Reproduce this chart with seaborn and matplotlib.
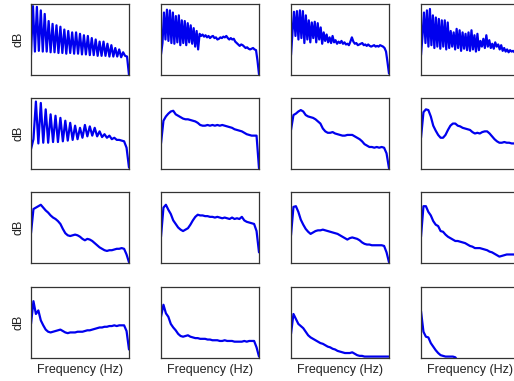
import matplotlib
matplotlib.use("Agg")
import matplotlib.pyplot as plt
import seaborn as sns
import numpy as np
import pandas as pd

# spectra: level in % of each panel's dB range,
# sampled evenly from lowest to highest frequency
r1c1 = [28, 97, 33, 96, 34, 91, 33, 86, 33, 76, 32, 72, 32, 70, 31, 68, 31, 64,
        30, 62, 31, 60, 30, 60, 30, 58, 29, 56, 29, 55, 28, 52, 28, 50, 27, 47,
        27, 47, 27, 44, 26, 42, 26, 38, 26, 36, 25, 32, 27, 26, 0]
r1c2 = [29, 45, 88, 50, 92, 48, 91, 45, 88, 44, 83, 46, 84, 42, 77, 45, 76, 42,
        73, 46, 70, 44, 66, 40, 62, 36, 58, 55, 57, 54, 56, 53, 55, 52, 54, 55,
        52, 53, 50, 51, 53, 52, 54, 53, 55, 52, 50, 52, 50, 51, 47, 45, 43, 41,
        43, 42, 40, 38, 39, 37, 36, 37, 38, 36, 35, 20, 1]
r1c3 = [28, 60, 89, 55, 90, 50, 91, 52, 90, 45, 84, 50, 77, 46, 74, 52, 75, 46,
        73, 50, 67, 44, 60, 48, 57, 46, 53, 45, 55, 46, 49, 44, 47, 45, 48, 44,
        46, 43, 44, 42, 47, 53, 47, 44, 45, 42, 43, 44, 45, 42, 43, 41, 43, 41,
        40, 41, 42, 40, 41, 40, 42, 41, 40, 38, 33, 18, 2]
r1c4 = [28, 55, 88, 45, 91, 40, 93, 42, 84, 38, 81, 40, 79, 37, 77, 40, 77, 36,
        74, 38, 62, 40, 60, 36, 65, 38, 63, 34, 60, 37, 58, 35, 60, 34, 63, 36,
        56, 33, 58, 35, 48, 40, 51, 38, 56, 40, 49, 38, 44, 37, 46, 40, 43, 36,
        42, 34, 38, 33, 36, 32, 35, 33, 34, 32, 31, 15, 0]

r2c1 = [28, 42, 95, 36, 93, 37, 84, 37, 77, 38, 75, 38, 72, 39, 68, 40, 65, 41,
        61, 42, 58, 44, 62, 46, 60, 47, 58, 46, 53, 45, 49, 44, 47, 42, 44, 41,
        41, 40, 39, 30, 2]
r2c2 = [36, 68, 74, 78, 81, 82, 77, 75, 73, 71, 70, 70, 69, 68, 67, 65, 62, 61,
        61, 62, 61, 62, 61, 62, 61, 62, 61, 60, 59, 58, 56, 55, 54, 53, 51, 49,
        48, 47, 47, 47, 1]
r2c3 = [55, 76, 78, 81, 83, 81, 76, 74, 73, 72, 70, 67, 64, 57, 53, 51, 51, 52,
        50, 49, 48, 47, 47, 48, 48, 48, 46, 44, 42, 39, 35, 33, 31, 31, 30, 31,
        30, 31, 30, 22, 1]
r2c4 = [44, 80, 84, 83, 74, 61, 54, 48, 44, 44, 48, 55, 61, 64, 64, 61, 60, 58,
        57, 56, 55, 52, 50, 51, 50, 52, 53, 53, 50, 46, 42, 39, 37, 37, 38, 37,
        37, 36, 36, 34, 1]

r3c1 = [42, 76, 78, 80, 82, 78, 74, 71, 67, 64, 62, 59, 55, 48, 42, 39, 38, 39,
        40, 39, 37, 34, 32, 34, 33, 31, 28, 25, 22, 20, 18, 17, 18, 18, 19, 20,
        20, 21, 20, 12, 1]
r3c2 = [37, 78, 82, 75, 69, 60, 55, 50, 47, 45, 47, 49, 54, 60, 65, 68, 67, 67,
        66, 66, 65, 65, 64, 65, 64, 63, 64, 63, 62, 64, 62, 63, 62, 65, 60, 58,
        57, 56, 55, 45, 15]
r3c3 = [39, 79, 80, 72, 61, 54, 48, 44, 41, 43, 45, 46, 46, 47, 46, 45, 44, 43,
        42, 41, 39, 37, 35, 33, 35, 36, 35, 34, 32, 29, 27, 26, 26, 25, 25, 25,
        25, 25, 24, 15, 1]
r3c4 = [37, 80, 80, 72, 67, 59, 54, 52, 45, 44, 40, 37, 35, 33, 31, 31, 30, 29,
        28, 26, 24, 23, 21, 21, 21, 20, 19, 18, 16, 15, 13, 11, 9, 10, 11, 12,
        12, 12, 12, 10, 1]

r4c1 = [48, 80, 62, 67, 53, 46, 40, 37, 36, 37, 38, 39, 40, 38, 36, 35, 36, 36,
        36, 37, 37, 37, 38, 39, 39, 40, 41, 42, 43, 43, 44, 44, 45, 45, 46, 45,
        46, 46, 46, 38, 12]
r4c2 = [58, 75, 63, 58, 48, 43, 39, 34, 31, 30, 31, 32, 30, 29, 28, 28, 27, 27,
        27, 26, 26, 25, 25, 25, 24, 24, 25, 24, 24, 24, 23, 23, 23, 23, 24, 23,
        24, 24, 24, 15, 2]
r4c3 = [34, 62, 55, 48, 45, 42, 37, 32, 29, 27, 25, 23, 21, 20, 18, 16, 15, 13,
        12, 10, 9, 8, 7, 7, 7, 8, 6, 4, 3, 3, 2, 2, 2, 2, 2, 2, 2, 2, 2, 2, 2]
r4c4 = [66, 37, 30, 29, 21, 16, 11, 7, 4, 3, 2, 2, 2, 2, 1, -4, -4, -4, -4, -4,
        -4, -4, -4, -4, -4, -4, -4, -4, -4, -4, -4, -4, -4, -4, -4, -4, -4, -4,
        -4, -4, -4]

panels = [[r1c1, r1c2, r1c3, r1c4],
          [r2c1, r2c2, r2c3, r2c4],
          [r3c1, r3c2, r3c3, r3c4],
          [r4c1, r4c2, r4c3, r4c4]]

sns.set_style('white')
plt.rcParams['font.family'] = ['Liberation Sans', 'DejaVu Sans']

W, H = 514, 381
fig = plt.figure(figsize=(W / 100, H / 100), dpi=100)

# panel boxes in pixels (the last column runs off the right edge)
col_left = [31, 161, 291, 421]
row_top = [4, 98, 192, 287]
pw, ph = 98, 71

for r, row in enumerate(panels):
    for c, db in enumerate(row):
        ax = fig.add_axes([col_left[c] / W, 1 - (row_top[r] + ph) / H, pw / W, ph / H])
        df = pd.DataFrame({'freq': np.linspace(0, 100, len(db)), 'db': db})
        sns.lineplot(data=df, x='freq', y='db', ax=ax, color='#0000ee',
                     linewidth=1.6, estimator=None)
        ax.set_xlim(0, 100)
        ax.set_ylim(0, 100)
        ax.set_xticks([])
        ax.set_yticks([])
        ax.set_xlabel('Frequency (Hz)' if r == 3 else '', fontsize=9,
                      color='#222222', labelpad=4)
        ax.set_ylabel('dB' if c == 0 else '', fontsize=9,
                      color='#222222', labelpad=5)
        for s in ax.spines.values():
            s.set_color('#333333')
            s.set_linewidth(0.9)

fig.savefig('out.png', dpi=100)
